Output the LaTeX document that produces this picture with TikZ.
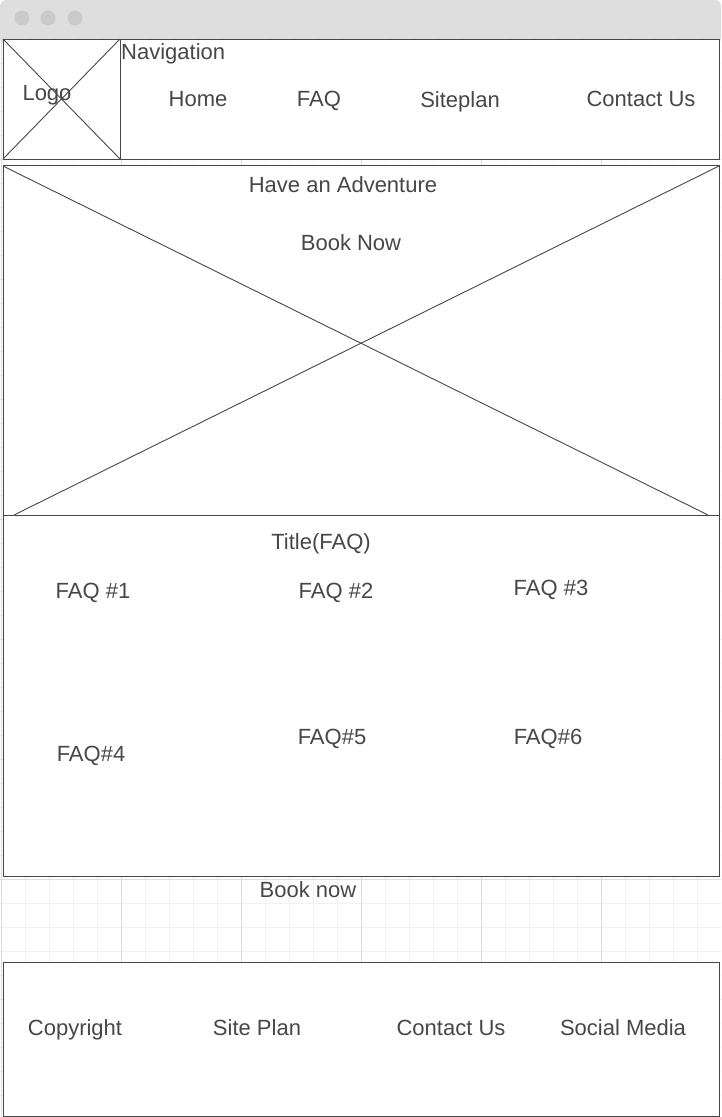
\documentclass[tikz,border=0pt]{standalone}
\usepackage{fontspec}
\setmainfont{Liberation Sans}
\setsansfont{Liberation Sans}
\usetikzlibrary{positioning}

\definecolor{chrome}{HTML}{DEDEDE}
\definecolor{dotgray}{HTML}{CACACA}
\definecolor{ink}{HTML}{474747}
\definecolor{gridminor}{HTML}{F1F1F1}
\definecolor{gridmajor}{HTML}{DDDDDD}

\begin{document}
\begin{tikzpicture}[
    x=1pt, y=-1pt,
    font=\sffamily,
    frame/.style={draw=ink, line width=1pt, fill=white},
    cross/.style={draw=ink, line width=0.9pt},
    lbl/.style={text=ink, font=\fontsize{22}{26}\selectfont, inner sep=0pt, anchor=base}
]
\useasboundingbox (0,0) rectangle (721,1117);

% Window chrome
\fill[chrome, rounded corners=6pt] (0,0) rectangle (721,44);
\fill[chrome] (0,30) rectangle (721,38);
\foreach \i/\px in {1/22, 2/48, 3/75} {
    \fill[dotgray] (\px,18) circle (7.5);
}

% Background grid
\foreach \gx in {1.7, 25.7, ..., 721} {
    \draw[gridminor, line width=0.8pt] (\gx,38) -- (\gx,1117);
}
\foreach \gy in {39.3, 63.3, ..., 1117} {
    \draw[gridminor, line width=0.8pt] (0,\gy) -- (721,\gy);
}
\foreach \gx in {1.7, 121.7, ..., 721} {
    \draw[gridmajor, line width=0.8pt] (\gx,38) -- (\gx,1117);
}
\foreach \gy in {39.3, 159.3, ..., 1117} {
    \draw[gridmajor, line width=0.8pt] (0,\gy) -- (721,\gy);
}

% Header
\draw[frame] (3,39) rectangle (719,159);
\draw[frame] (3,39) rectangle (120,159);
\coordinate (logoNW) at (3,39);
\coordinate (logoNE) at (120,39);
\coordinate (logoSW) at (3,159);
\coordinate (logoSE) at (120,159);
\draw[cross] (logoNW) -- (logoSE);
\draw[cross] (logoNE) -- (logoSW);
\node[lbl] (logo) at (47,100) {Logo};
\node[lbl, anchor=base west] (nav) at (121,59) {Navigation};
\foreach \i/\px/\py/\txt in {1/198/106/Home, 2/319/106/FAQ, 3/460/107/Siteplan, 4/641/106/Contact Us} {
    \node[lbl] (nav\i) at (\px,\py) {\txt};
}

% Hero
\draw[frame] (3,165) rectangle (719,515);
\coordinate (heroNW) at (3,166);
\coordinate (heroNE) at (719,166);
\coordinate (heroSW) at (14,515);
\coordinate (heroSE) at (708,515);
\draw[cross] (heroNW) -- (heroSE);
\draw[cross] (heroNE) -- (heroSW);
\node[lbl] (adventure) at (343,192) {Have an Adventure};
\node[lbl] (booknow) at (351,250) {Book Now};

% FAQ section
\draw[frame] (3,515) rectangle (719,876);
\node[lbl] (faqtitle) at (321,549) {Title(FAQ)};
\foreach \i/\px/\py/\txt in {1/93/598/FAQ \#1, 2/336/598/FAQ \#2, 3/551/595/FAQ \#3,
                            4/91/761/FAQ\#4, 5/332/744/FAQ\#5, 6/548/744/FAQ\#6} {
    \node[lbl] (faq\i) at (\px,\py) {\txt};
}

% Book now strip
\node[lbl] (bookstrip) at (308,897) {Book now};

% Footer
\draw[frame] (3,962) rectangle (719,1116);
\foreach \i/\px/\txt in {1/75/Copyright, 2/257/Site Plan, 3/451/Contact Us, 4/623/Social Media} {
    \node[lbl] (foot\i) at (\px,1035) {\txt};
}

\end{tikzpicture}
\end{document}
